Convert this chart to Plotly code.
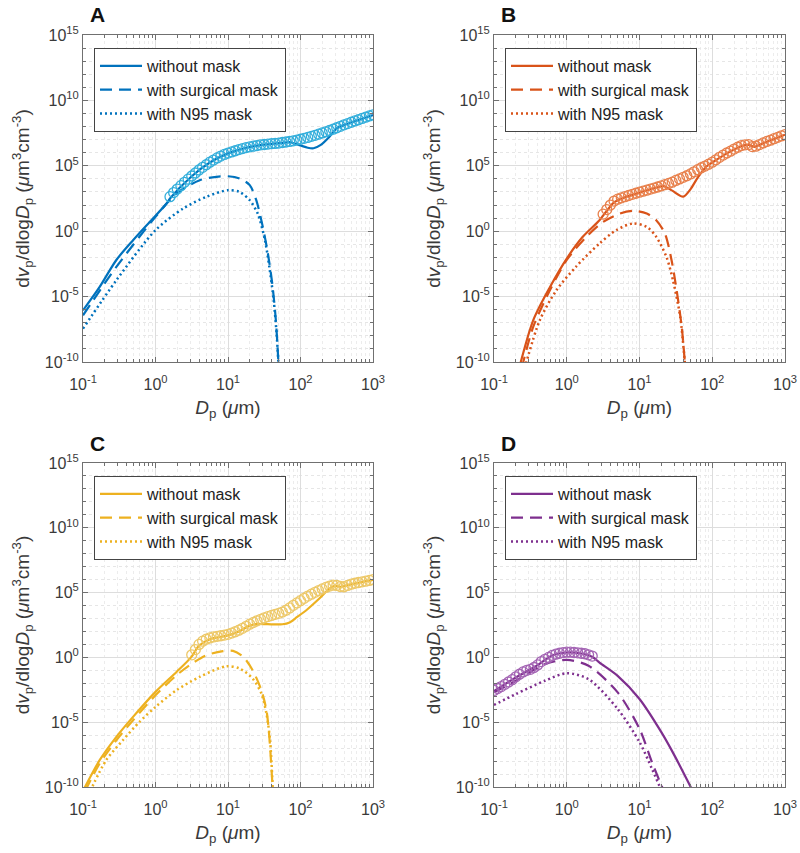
import numpy as np
import plotly.graph_objects as go

# ---------------- data (log10 units) ----------------
# Panel A
A_circ_lx = [0.20, 0.25, 0.30, 0.35, 0.40, 0.45, 0.50, 0.55, 0.60, 0.65, 0.70, 0.75, 0.80, 0.85, 0.90, 0.95,
             1.00, 1.05, 1.10, 1.15, 1.20, 1.25, 1.30, 1.35, 1.40, 1.45, 1.50, 1.55, 1.60, 1.65, 1.70, 1.75,
             1.80, 1.85, 1.90, 1.95, 2.00, 2.05, 2.10, 2.15, 2.20, 2.25, 2.30, 2.35, 2.40, 2.45, 2.50, 2.55,
             2.60, 2.65, 2.70, 2.75, 2.80, 2.85, 2.90, 2.95, 3.00]
A_circ_ly = [2.64, 2.95, 3.22, 3.48, 3.74, 3.98, 4.22, 4.45, 4.68, 4.88, 5.08, 5.28, 5.44, 5.60, 5.74, 5.87,
             5.97, 6.06, 6.15, 6.24, 6.32, 6.39, 6.45, 6.50, 6.55, 6.60, 6.63, 6.66, 6.69, 6.71, 6.74, 6.78,
             6.82, 6.86, 6.91, 6.97, 7.03, 7.10, 7.17, 7.25, 7.33, 7.42, 7.51, 7.60, 7.70, 7.80, 7.91, 8.02,
             8.13, 8.23, 8.33, 8.43, 8.52, 8.62, 8.72, 8.81, 8.90]
A_solid_lx = [-1.0, -0.77, -0.54, -0.31, -0.08, 0.15, 0.2, 0.5, 0.75, 1.0, 1.25, 1.5, 1.75, 1.86, 2.0, 2.1,
              2.18, 2.28, 2.38, 2.5, 2.6, 2.8, 3.0]
A_solid_ly = [-6.05, -4.26, -2.2, -0.69, 0.71, 2.1, 2.5, 4.2, 5.25, 5.95, 6.38, 6.62, 6.76, 6.8, 6.55, 6.38,
              6.34, 6.6, 7.1, 7.87, 8.12, 8.5, 8.88]
A_surg_lx = [-1.0, -0.54, 0.0, 0.29, 0.61, 0.84, 1.0, 1.16, 1.3, 1.39, 1.48, 1.55, 1.61, 1.66, 1.70]
A_surg_ly = [-6.43, -2.73, 1.1, 2.88, 3.9, 4.16, 4.2, 4.03, 3.52, 2.37, 0.33, -1.7, -4.0, -6.8, -10.5]
A_n95_lx = [-1.0, -0.54, 0.0, 0.38, 0.70, 1.0, 1.16, 1.3, 1.41, 1.51, 1.57, 1.63, 1.67, 1.70]
A_n95_ly = [-7.45, -3.75, 0.08, 1.73, 2.63, 3.14, 3.0, 2.37, 1.35, -0.7, -2.73, -5.28, -7.8, -10.5]

# Panel B
B_circ_lx = [0.50, 0.55, 0.60, 0.65, 0.70, 0.75, 0.80, 0.85, 0.90, 0.95, 1.00, 1.05, 1.10, 1.15, 1.20, 1.25,
             1.30, 1.35, 1.40, 1.45, 1.50, 1.55, 1.60, 1.65, 1.70, 1.75, 1.80, 1.85, 1.90, 1.95, 2.00, 2.05,
             2.10, 2.15, 2.20, 2.25, 2.30, 2.35, 2.40, 2.45, 2.50, 2.55, 2.60, 2.65, 2.70, 2.75, 2.80, 2.85,
             2.90, 2.95, 3.00]
B_circ_ly = [1.30, 1.65, 2.00, 2.30, 2.45, 2.55, 2.64, 2.73, 2.82, 2.90, 2.98, 3.06, 3.14, 3.22, 3.30, 3.38,
             3.47, 3.56, 3.65, 3.75, 3.88, 4.00, 4.12, 4.24, 4.38, 4.54, 4.70, 4.85, 4.98, 5.12, 5.28, 5.46,
             5.65, 5.82, 5.98, 6.12, 6.28, 6.42, 6.55, 6.60, 6.62, 6.47, 6.50, 6.62, 6.75, 6.86, 6.96, 7.07,
             7.18, 7.29, 7.38]
B_solid_lx = [-0.66, -0.46, -0.23, 0.0, 0.22, 0.45, 0.55, 0.65, 0.8, 1.0, 1.2, 1.33, 1.45, 1.6, 1.7, 1.8,
              1.92, 2.0, 2.2, 2.4, 2.5, 2.58, 2.7, 2.85, 3.0]
B_solid_ly = [-10.6, -6.8, -4.26, -2.09, -0.43, 0.84, 1.55, 2.2, 2.6, 2.95, 3.28, 3.45, 3.1, 2.64, 3.2, 4.1,
              4.95, 5.25, 5.95, 6.5, 6.6, 6.45, 6.72, 7.05, 7.38]
B_surg_lx = [-0.62, -0.46, -0.23, 0.0, 0.27, 0.5, 0.73, 0.91, 1.1, 1.23, 1.35, 1.44, 1.51, 1.58, 1.63]
B_surg_ly = [-10.5, -7.3, -4.5, -2.2, -0.43, 0.71, 1.35, 1.56, 1.35, 0.84, -0.18, -2.2, -4.5, -7.3, -10.5]
B_n95_lx = [-0.58, -0.37, -0.14, 0.13, 0.45, 0.68, 0.91, 1.1, 1.23, 1.37, 1.46, 1.56, 1.63]
B_n95_ly = [-10.5, -6.8, -4.5, -2.7, -0.94, 0.08, 0.59, 0.33, -0.43, -1.96, -3.75, -6.56, -10.5]

# Panel C
C_circ_lx = [0.50, 0.55, 0.60, 0.65, 0.70, 0.75, 0.80, 0.85, 0.90, 0.95, 1.00, 1.05, 1.10, 1.15, 1.20, 1.25,
             1.30, 1.35, 1.40, 1.45, 1.50, 1.55, 1.60, 1.65, 1.70, 1.75, 1.80, 1.85, 1.90, 1.95, 2.00, 2.05,
             2.10, 2.15, 2.20, 2.25, 2.30, 2.35, 2.40, 2.45, 2.50, 2.55, 2.60, 2.65, 2.70, 2.75, 2.80, 2.85,
             2.90, 2.95, 3.00]
C_circ_ly = [0.20, 0.60, 1.00, 1.25, 1.40, 1.50, 1.58, 1.63, 1.67, 1.72, 1.78, 1.88, 1.98, 2.10, 2.24, 2.40,
             2.56, 2.70, 2.82, 2.94, 3.05, 3.15, 3.24, 3.32, 3.40, 3.50, 3.64, 3.82, 4.02, 4.20, 4.38, 4.56,
             4.73, 4.88, 5.02, 5.16, 5.28, 5.40, 5.50, 5.57, 5.55, 5.47, 5.45, 5.55, 5.65, 5.72, 5.78, 5.83,
             5.88, 5.94, 6.00]
C_solid_lx = [-1.0, -0.77, -0.54, -0.31, 0.0, 0.29, 0.49, 0.6, 0.75, 1.0, 1.15, 1.3, 1.4, 1.55, 1.75, 1.85,
              1.95, 2.08, 2.26, 2.4, 2.47, 2.55, 2.7, 2.85, 3.0]
C_solid_ly = [-10.3, -7.93, -6.13, -4.59, -2.66, -1.12, 0.0, 0.9, 1.4, 1.7, 2.0, 2.45, 2.58, 2.56, 2.56, 2.7,
              3.1, 3.64, 4.54, 5.3, 5.52, 5.45, 5.63, 5.82, 5.98]
C_surg_lx = [-0.97, -0.77, -0.54, -0.31, 0.0, 0.29, 0.47, 0.70, 0.93, 1.07, 1.21, 1.34, 1.46, 1.53, 1.57, 1.62]
C_surg_ly = [-10.3, -8.19, -6.39, -4.85, -2.92, -1.38, -0.6, 0.17, 0.48, 0.5, 0.04, -0.99, -2.53, -4.07, -6.13, -10.5]
C_n95_lx = [-0.90, -0.68, -0.45, -0.22, 0.0, 0.29, 0.61, 0.98, 1.16, 1.34, 1.46, 1.53, 1.58, 1.62]
C_n95_ly = [-10.3, -7.93, -6.39, -4.97, -3.82, -2.53, -1.5, -0.68, -0.86, -1.63, -2.79, -4.33, -6.39, -10.5]

# Panel D
D_circ_lx = [-1.00, -0.95, -0.90, -0.85, -0.80, -0.75, -0.70, -0.65, -0.60, -0.55, -0.50, -0.45, -0.40, -0.35,
             -0.30, -0.25, -0.20, -0.15, -0.10, -0.05, 0.00, 0.05, 0.10, 0.15, 0.20, 0.25, 0.30, 0.35]
D_circ_ly = [-2.55, -2.40, -2.25, -2.08, -1.90, -1.72, -1.50, -1.30, -1.12, -1.00, -0.92, -0.78, -0.58, -0.32,
             -0.15, 0.00, 0.15, 0.25, 0.32, 0.37, 0.40, 0.40, 0.38, 0.35, 0.32, 0.28, 0.20, 0.10]
D_solid_lx = [-1.0, -0.7, -0.4, -0.2, 0.0, 0.2, 0.35, 0.45, 0.7, 1.0, 1.3, 1.48, 1.74]
D_solid_ly = [-2.6, -1.55, -0.6, 0.15, 0.38, 0.3, 0.05, -0.4, -1.42, -3.21, -5.77, -7.56, -10.4]
D_surg_lx = [-1.0, -0.7, -0.3, 0.0, 0.3, 0.7, 1.0, 1.17, 1.34]
D_surg_ly = [-2.7, -1.8, -0.52, -0.19, -0.65, -2.7, -5.51, -8.07, -10.4]
D_n95_lx = [-1.0, -0.7, -0.3, 0.0, 0.3, 0.7, 1.0, 1.17, 1.31]
D_n95_ly = [-3.67, -2.83, -1.8, -1.22, -1.68, -3.98, -6.53, -8.58, -10.4]

panel_letters = ["A", "B", "C", "D"]
legend_names = ["without mask", "with surgical mask", "with N95 mask"]
line_colors = ["#0072BD", "#D95319", "#EDB120", "#7E2F8E"]
circ_colors = ["#33AEDB", "#E8804C", "#EDC868", "#A465B4"]

x_tickvals = [0.1, 1, 10, 100, 1000]
x_ticktext = ["10<sup>-1</sup>", "10<sup>0</sup>", "10<sup>1</sup>", "10<sup>2</sup>", "10<sup>3</sup>"]
y_tickvals = [1e-10, 1e-5, 1e0, 1e5, 1e10, 1e15]
y_ticktext = ["10<sup>-10</sup>", "10<sup>-5</sup>", "10<sup>0</sup>", "10<sup>5</sup>",
              "10<sup>10</sup>", "10<sup>15</sup>"]

panels = [
    (A_circ_lx, A_circ_ly, A_solid_lx, A_solid_ly, A_surg_lx, A_surg_ly, A_n95_lx, A_n95_ly),
    (B_circ_lx, B_circ_ly, B_solid_lx, B_solid_ly, B_surg_lx, B_surg_ly, B_n95_lx, B_n95_ly),
    (C_circ_lx, C_circ_ly, C_solid_lx, C_solid_ly, C_surg_lx, C_surg_ly, C_n95_lx, C_n95_ly),
    (D_circ_lx, D_circ_ly, D_solid_lx, D_solid_ly, D_surg_lx, D_surg_ly, D_n95_lx, D_n95_ly),
]

# ---------------- layout geometry ----------------
W, H = 800, 853
x_doms = [[83 / W, 373 / W], [494 / W, 785 / W]]
y_doms = [[1 - 362 / H, 1 - 35 / H], [1 - 787 / H, 1 - 463 / H]]

FONT = "Liberation Sans, Arial, Helvetica, sans-serif"
TXT = "#3a3a3a"
AX = "#707070"

x_minor = [m * 10.0 ** e for e in range(-1, 3) for m in range(2, 10)]
y_minor = [10.0 ** e for e in range(-10, 16) if e % 5 != 0]

fig = go.Figure()
layout = dict(width=W, height=H, margin=dict(l=0, r=0, t=0, b=0), autosize=False,
              paper_bgcolor="white", plot_bgcolor="white",
              font=dict(family=FONT, color=TXT, size=14), annotations=[])

for i, (clx, cly, slx, sly, glx, gly, nlx, nly) in enumerate(panels):
    r, c = divmod(i, 2)
    sfx = "" if i == 0 else str(i + 1)
    xa, ya = "x" + sfx, "y" + sfx
    leg = "legend" + sfx
    col = line_colors[i]
    common = dict(xaxis=xa, yaxis=ya, legend=leg, mode="lines", line_shape="spline")
    fig.add_trace(go.Scatter(x=10 ** np.array(slx), y=10 ** np.array(sly), name=legend_names[0],
                             line=dict(color=col, width=2.2, dash="solid", smoothing=0.8), **common))
    fig.add_trace(go.Scatter(x=10 ** np.array(glx), y=10 ** np.array(gly), name=legend_names[1],
                             line=dict(color=col, width=2.2, dash="12px,7px", smoothing=0.8), **common))
    fig.add_trace(go.Scatter(x=10 ** np.array(nlx), y=10 ** np.array(nly), name=legend_names[2],
                             line=dict(color=col, width=2.5, dash="2px,3px", smoothing=0.8), **common))
    fig.add_trace(go.Scatter(x=10 ** np.array(clx), y=10 ** np.array(cly), mode="markers",
                             xaxis=xa, yaxis=ya, showlegend=False,
                             marker=dict(symbol="circle-open", size=10, color=circ_colors[i],
                                         line=dict(width=1.3, color=circ_colors[i]))))

    axis_common = dict(type="log", showline=True, linecolor=AX, linewidth=1, mirror="allticks",
                       ticks="inside", ticklen=5, tickcolor=AX, showgrid=True, gridcolor="#dddddd",
                       gridwidth=1, zeroline=False, tickfont=dict(size=16, color=TXT, family=FONT),
                       tickmode="array", automargin=False)
    layout["xaxis" + sfx] = dict(
        axis_common, domain=x_doms[c], anchor=ya, range=[-1, 3],
        tickvals=x_tickvals, ticktext=x_ticktext, ticklabelstandoff=8,
        minor=dict(tickmode="array", tickvals=x_minor, ticks="inside", ticklen=3, tickcolor=AX,
                   showgrid=True, gridcolor="#ececec", griddash="dot"),
        title=dict(text="<i>D</i><sub>p</sub> (<i>μ</i>m)", font=dict(size=19, color=TXT), standoff=8))
    layout["yaxis" + sfx] = dict(
        axis_common, domain=y_doms[r], anchor=xa, range=[-10, 15],
        tickvals=y_tickvals, ticktext=y_ticktext,
        minor=dict(tickmode="array", tickvals=y_minor, ticks="inside", ticklen=3, tickcolor=AX,
                   showgrid=True, gridcolor="#e6e6e6", griddash="dot"),
        title=dict(text="d<i>v</i><sub>p</sub>/dlog<i>D</i><sub>p</sub> (<i>μ</i>m<sup>3</sup>cm<sup>-3</sup>)",
                   font=dict(size=19, color=TXT), standoff=10))
    layout[leg] = dict(x=(x_doms[c][0] * W + 11) / W, y=y_doms[r][1] - 13 / H, xanchor="left", yanchor="top",
                       bgcolor="white", bordercolor="#444444", borderwidth=1,
                       font=dict(size=16, color="#222222", family=FONT), itemwidth=42,
                       tracegroupgap=0, traceorder="normal")
    layout["annotations"].append(dict(text="<b>" + panel_letters[i] + "</b>", xref="paper", yref="paper",
                                      x=(x_doms[c][0] * W + 14) / W, y=y_doms[r][1] + 20 / H,
                                      xanchor="center", yanchor="middle", showarrow=False,
                                      font=dict(size=21, color="#111111", family=FONT)))

fig.update_layout(**layout)
fig.write_html("out.html", config={"displayModeBar": False},
               post_script="document.body.style.margin='0px';document.body.style.overflow='hidden';")
